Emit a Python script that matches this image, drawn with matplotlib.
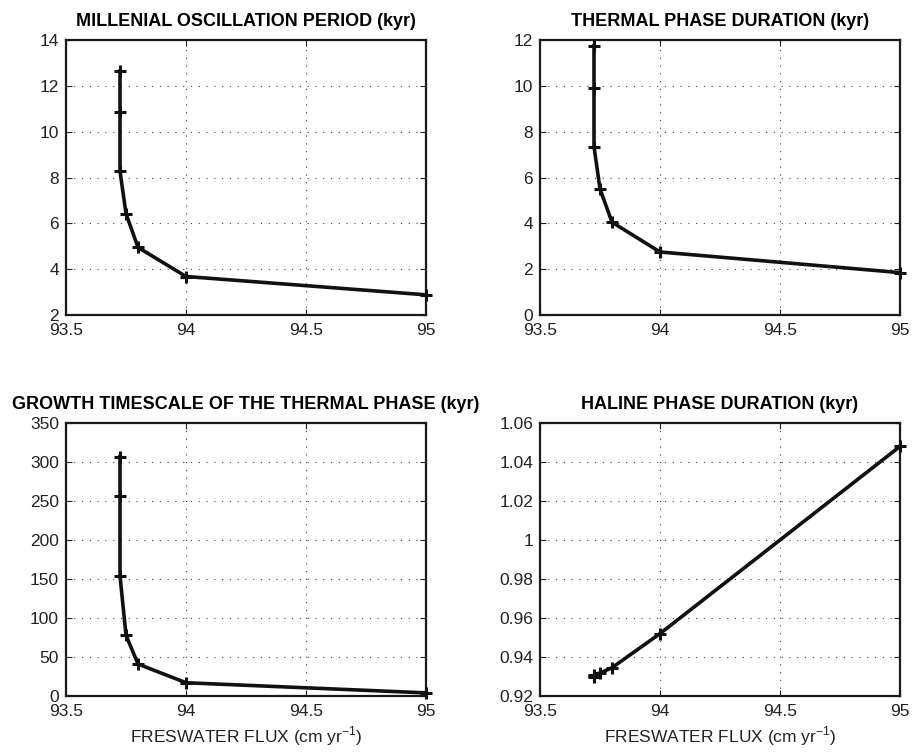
import numpy as np
import matplotlib
matplotlib.use("Agg")
import matplotlib.pyplot as plt

plt.rcParams['font.family'] = ['Liberation Sans', 'DejaVu Sans']
plt.rcParams['mathtext.fontset'] = 'custom'
plt.rcParams['mathtext.rm'] = 'Liberation Sans'

# ----- Data -----
flux = [93.725, 93.725, 93.725, 93.75, 93.8, 94.0, 95.0]

period = [12.65, 10.85, 8.28, 6.42, 4.95, 3.68, 2.88]
thermal = [11.75, 9.9, 7.35, 5.5, 4.05, 2.75, 1.85]
growth = [307, 256, 154, 78, 41, 17, 4]
haline = [0.9298, 0.9302, 0.9307, 0.9318, 0.9345, 0.952, 1.048]

titles = ["MILLENIAL OSCILLATION PERIOD (kyr)",
          "THERMAL PHASE DURATION (kyr)",
          "GROWTH TIMESCALE OF THE THERMAL PHASE (kyr)",
          "HALINE PHASE DURATION (kyr)"]
ylims = [(2, 14), (0, 12), (0, 350), (0.92, 1.06)]
yticks = [np.arange(2, 14.1, 2), np.arange(0, 12.1, 2),
          np.arange(0, 351, 50), np.arange(0.92, 1.0601, 0.02)]
ylabels = [["2", "4", "6", "8", "10", "12", "14"],
           ["0", "2", "4", "6", "8", "10", "12"],
           ["0", "50", "100", "150", "200", "250", "300", "350"],
           ["0.92", "0.94", "0.96", "0.98", "1", "1.02", "1.04", "1.06"]]
xticks = [93.5, 94, 94.5, 95]
xlabels = ["93.5", "94", "94.5", "95"]

# ----- Figure -----
fig = plt.figure(figsize=(9.13, 7.53), dpi=100)
W, H = 913, 753
boxes = [(66, 40, 426, 315), (540, 40, 900, 315),
         (66, 423, 426, 696), (540, 423, 900, 696)]

series = [period, thermal, growth, haline]
for i, (x0, y0, x1, y1) in enumerate(boxes):
    ax = fig.add_axes([x0 / W, 1 - y1 / H, (x1 - x0) / W, (y1 - y0) / H])
    ax.plot(flux, series[i], color='#111111', lw=2.6, marker='+',
            markersize=9, mew=2.2, solid_joinstyle='round', clip_on=False,
            zorder=5)
    ax.set_xlim(93.5, 95)
    ax.set_ylim(*ylims[i])
    ax.set_xticks(xticks)
    ax.set_xticklabels(xlabels)
    ax.set_yticks(yticks[i])
    ax.set_yticklabels(ylabels[i])
    ax.grid(True, linestyle=(0, (1, 6)), color='#444444', linewidth=0.8)
    ax.tick_params(direction='in', length=4, width=0.8, top=True, right=True,
                   labelsize=12.5, colors='#222222')
    ax.tick_params(axis='x', pad=6)
    ax.tick_params(axis='y', pad=5)
    for sp in ax.spines.values():
        sp.set_linewidth(1.6)
        sp.set_color('#1a1a1a')
    ax.set_title(titles[i], fontsize=13, fontweight='bold', pad=10)
    if i >= 2:
        ax.set_xlabel("FRESWATER FLUX (cm yr$^{-1}$)", fontsize=12.5,
                      labelpad=4, color='#222222')

fig.savefig("out.png", dpi=100)
